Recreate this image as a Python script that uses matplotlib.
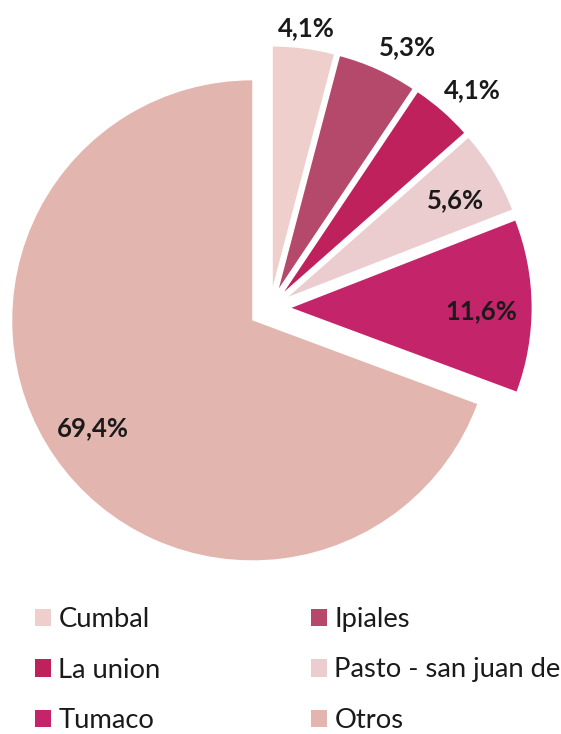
import numpy as np
import matplotlib.pyplot as plt

plt.rcParams['font.family'] = ['Lato', 'DejaVu Sans']

labels = ['Cumbal', 'Ipiales', 'La union', 'Pasto - san juan de', 'Tumaco', 'Otros']
shares = [4.1, 5.3, 4.1, 5.6, 11.6, 69.4]
pct_text = ['4,1%', '5,3%', '4,1%', '5,6%', '11,6%', '69,4%']
colors = ['#EFCFCB', '#B5496B', '#BE215C', '#EBCDD0', '#C3246A', '#E3B5AF']
label_dist = [1.093, 1.145, 1.154, 0.807, 0.789, 0.796]
label_turn = [0, -3.6, -1.6, -0.9, -0.7, -1.3]   # degrees off the bisector

W, H = 561, 734
fig = plt.figure(figsize=(W / 100, H / 100), dpi=100)

# pie area in pixels: centre (270, 308), radius 240 px
cx, cy, R = 270, 308, 240
top_px, bot_px = 0, 590
ax = fig.add_axes([0, (H - bot_px) / H, 1, (bot_px - top_px) / H])

wedges, _ = ax.pie(shares, colors=colors, startangle=90, counterclock=False,
                   explode=[0.09] * len(shares), radius=1,
                   wedgeprops=dict(linewidth=0))
ax.set_xlim((0 - cx) / R, (W - cx) / R)
ax.set_ylim((cy - bot_px) / R, (cy - top_px) / R)
ax.set_aspect('auto')
ax.axis('off')

# percentage labels along each wedge's bisector
for w, txt, d, t in zip(wedges, pct_text, label_dist, label_turn):
    ang = np.deg2rad((w.theta1 + w.theta2) / 2 + t)
    x0, y0 = w.center
    ax.text(x0 + d * np.cos(ang), y0 + d * np.sin(ang), txt,
            ha='center', va='center_baseline', fontsize=18.5,
            fontweight='bold', color='#1a1a1a')

# legend, drawn row by row as two columns
order = [[0, 2, 4], [1, 3, 5]]
col_x = [35, 311]
for col, idx in zip(col_x, order):
    fig.legend([wedges[i] for i in idx], [labels[i] for i in idx],
               loc='center left', bbox_to_anchor=(col / W, (H - 670) / H),
               frameon=False, fontsize=19.7, handlelength=0.6,
               handleheight=0.6, handletextpad=0.25, labelspacing=0.93,
               borderpad=0, borderaxespad=0, labelcolor='#1a1a1a')

fig.savefig('out.png', dpi=100)
